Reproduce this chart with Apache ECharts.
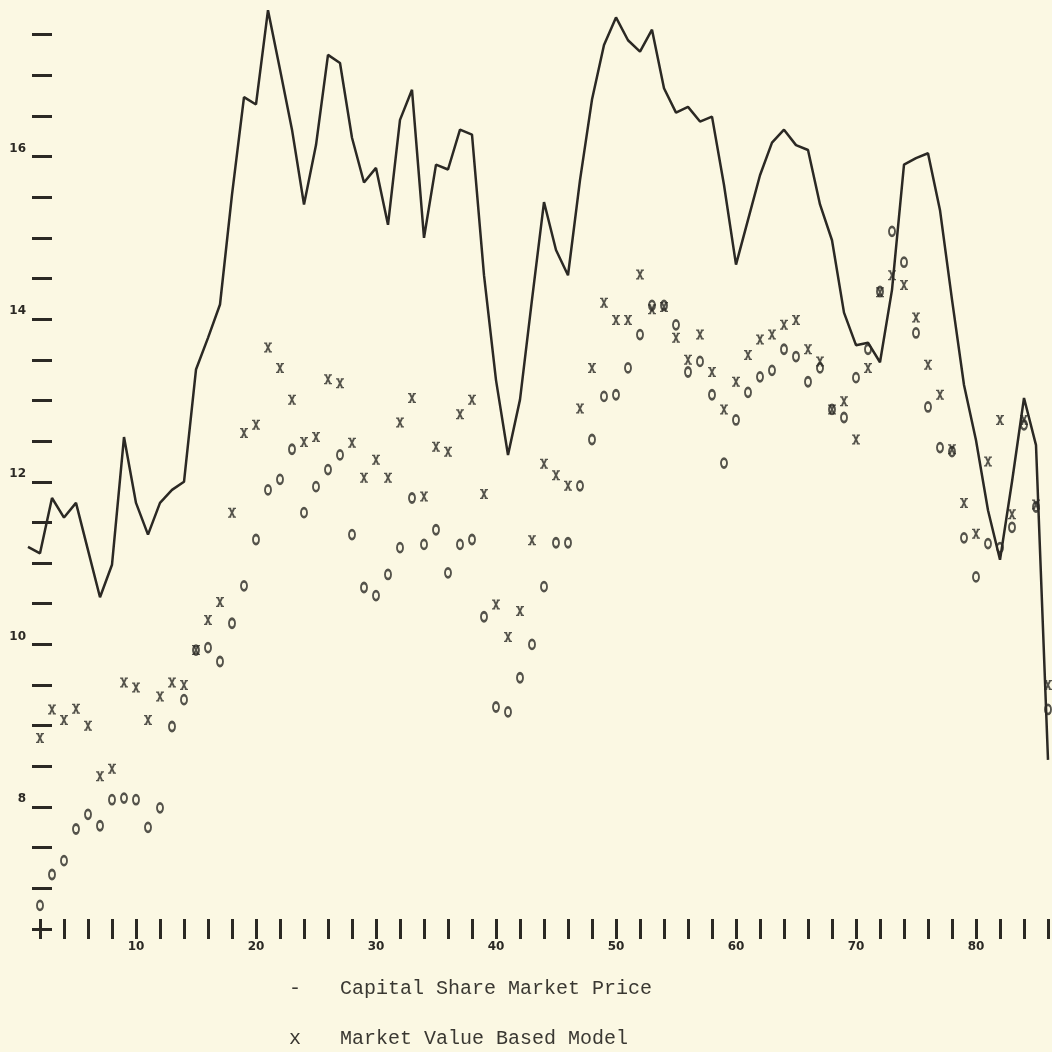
<!DOCTYPE html>
<html>
<head>
<meta charset="utf-8">
<script src="https://cdn.jsdelivr.net/npm/echarts@6/dist/echarts.min.js"></script>
<style>
html, body { margin: 0; padding: 0; background: #fbf8e3; }
#main { width: 1052px; height: 1052px; }
</style>
</head>
<body>
<div id="main"></div>
<script>
// quarters: price line starts at 1, the two model series at 2
const priceStart = 1;
const modelStart = 2;

const marketPrice = [
  11.20, 11.12, 11.80, 11.56, 11.74, 11.16, 10.58, 10.98, 12.55, 11.74,
  11.35, 11.74, 11.90, 12.00, 13.38, 13.77, 14.18, 15.53, 16.73, 16.64,
  17.80, 17.07, 16.33, 15.41, 16.14, 17.25, 17.15, 16.23, 15.68, 15.86,
  15.16, 16.45, 16.82, 15.00, 15.90, 15.84, 16.33, 16.27, 14.54, 13.25,
  12.33, 13.01, 14.24, 15.44, 14.85, 14.54, 15.71, 16.70, 17.37, 17.71,
  17.43, 17.29, 17.56, 16.84, 16.54, 16.61, 16.43, 16.49, 15.65, 14.67,
  15.22, 15.77, 16.17, 16.33, 16.14, 16.08, 15.41, 14.97, 14.08, 13.68,
  13.71, 13.47, 14.36, 15.90, 15.98, 16.04, 15.34, 14.24, 13.19, 12.51,
  11.65, 11.04, 12.00, 13.03, 12.45, 8.58
];

const marketValueModel = [
  8.85, 9.20, 9.07, 9.21, 9.00, 8.38, 8.47, 9.53, 9.47,
  9.07, 9.36, 9.53, 9.50, 9.93, 10.30, 10.52, 11.62, 12.60, 12.70,
  13.65, 13.40, 13.01, 12.49, 12.55, 13.26, 13.21, 12.48, 12.05, 12.27,
  12.05, 12.73, 13.03, 11.82, 12.43, 12.37, 12.83, 13.01, 11.85, 10.49,
  10.09, 10.41, 11.28, 12.22, 12.08, 11.95, 12.90, 13.40, 14.20, 13.99,
  13.99, 14.55, 14.12, 14.15, 13.77, 13.50, 13.81, 13.35, 12.89, 13.23,
  13.56, 13.75, 13.81, 13.93, 13.99, 13.63, 13.48, 12.89, 12.99, 12.52,
  13.40, 14.33, 14.54, 14.42, 14.02, 13.44, 13.07, 12.40, 11.74, 11.36,
  12.25, 12.76, 11.60, 12.76, 11.72, 9.50
];

const otherModel = [
  6.79, 7.17, 7.34, 7.73, 7.91, 7.77, 8.09, 8.11, 8.09,
  7.75, 7.99, 8.99, 9.32, 9.93, 9.96, 9.79, 10.26, 10.72, 11.29,
  11.90, 12.03, 12.40, 11.62, 11.94, 12.15, 12.33, 11.35, 10.70, 10.60,
  10.86, 11.19, 11.80, 11.23, 11.41, 10.88, 11.23, 11.29, 10.34, 9.23,
  9.17, 9.59, 10.00, 10.71, 11.25, 11.25, 11.95, 12.52, 13.05, 13.07,
  13.40, 13.81, 14.17, 14.17, 13.93, 13.35, 13.48, 13.07, 12.23, 12.76,
  13.10, 13.29, 13.37, 13.63, 13.54, 13.23, 13.40, 12.89, 12.79, 13.28,
  13.63, 14.34, 15.08, 14.70, 13.83, 12.92, 12.42, 12.37, 11.31, 10.83,
  11.24, 11.19, 11.44, 12.70, 11.69, 9.20
];

// tick marks every 2 quarters from 2, every half unit from 6.5
const xTicks = [2, 4, 6, 8, 10, 12, 14, 16, 18, 20, 22, 24, 26, 28, 30, 32, 34, 36, 38, 40, 42, 44,
  46, 48, 50, 52, 54, 56, 58, 60, 62, 64, 66, 68, 70, 72, 74, 76, 78, 80, 82, 84, 86];
const xTickLabels = [10, 20, 30, 40, 50, 60, 70, 80];
const yTicks = [6.5, 7, 7.5, 8, 8.5, 9, 9.5, 10, 10.5, 11, 11.5, 12, 12.5, 13, 13.5, 14, 14.5,
  15, 15.5, 16, 16.5, 17, 17.5];
const yTickLabels = [8, 10, 12, 14, 16];

const ink = '#2b2924';
const pair = (arr, start) => arr.map((v, i) => [start + i, v]);
const labelFont = { color: ink, fontSize: 12, fontWeight: 'bold', fontFamily: 'DejaVu Sans' };
// typewriter style "x" with little serifs
const xGlyph = 'path://M0,0 L4,0 L4,1.5 L5,3.4 L6,1.5 L6,0 L10,0 L10,1.5 L8.6,1.5 L6.4,6 L8.6,10.5 L10,10.5 L10,12 L6,12 L6,10.5 L5,8.6 L4,10.5 L4,12 L0,12 L0,10.5 L1.4,10.5 L3.6,6 L1.4,1.5 L0,1.5 Z';

const chart = echarts.init(document.getElementById('main'));
chart.setOption({
  backgroundColor: '#fbf8e3',
  animation: false,
  grid: { left: 16, right: 4, top: 2, bottom: 123 },
  xAxis: {
    type: 'value', min: 0, max: 86, offset: -10,
    axisLine: { show: false, onZero: false },
    axisTick: { show: true, length: 20, customValues: xTicks, lineStyle: { color: ink, width: 3 } },
    axisLabel: Object.assign({ margin: 22, customValues: xTickLabels }, labelFont),
    splitLine: { show: false }
  },
  yAxis: {
    type: 'value', min: 6.5, max: 17.9, offset: -36,
    axisLine: { show: false, onZero: false },
    axisTick: { show: true, length: 20, customValues: yTicks, lineStyle: { color: ink, width: 3 } },
    axisLabel: Object.assign({
      margin: 26, customValues: yTickLabels, verticalAlign: 'bottom', padding: [0, 0, 2, 0]
    }, labelFont),
    splitLine: { show: false }
  },
  series: [
    {
      name: 'Capital Share Market Price', type: 'line',
      data: pair(marketPrice, priceStart), symbol: 'none',
      lineStyle: { color: ink, width: 2.5 }, z: 3
    },
    {
      name: 'Market Value Based Model', type: 'scatter',
      data: pair(marketValueModel, modelStart),
      symbol: xGlyph, symbolSize: [8, 10], itemStyle: { color: ink }
    },
    {
      name: 'o', type: 'scatter',
      data: pair(otherModel, modelStart),
      symbol: 'circle', symbolSize: [6, 9],
      itemStyle: { color: 'rgba(0,0,0,0)', borderColor: ink, borderWidth: 2.3 }
    }
  ],
  graphic: [
    { type: 'text', left: 289, top: 979, style: { text: '-', font: '20px "Liberation Mono"', fill: '#3a3832' } },
    { type: 'text', left: 340, top: 979, style: { text: 'Capital Share Market Price', font: '20px "Liberation Mono"', fill: '#3a3832' } },
    { type: 'text', left: 289, top: 1029, style: { text: 'x', font: '20px "Liberation Mono"', fill: '#3a3832' } },
    { type: 'text', left: 340, top: 1029, style: { text: 'Market Value Based Model', font: '20px "Liberation Mono"', fill: '#3a3832' } }
  ]
});
</script>
</body>
</html>
